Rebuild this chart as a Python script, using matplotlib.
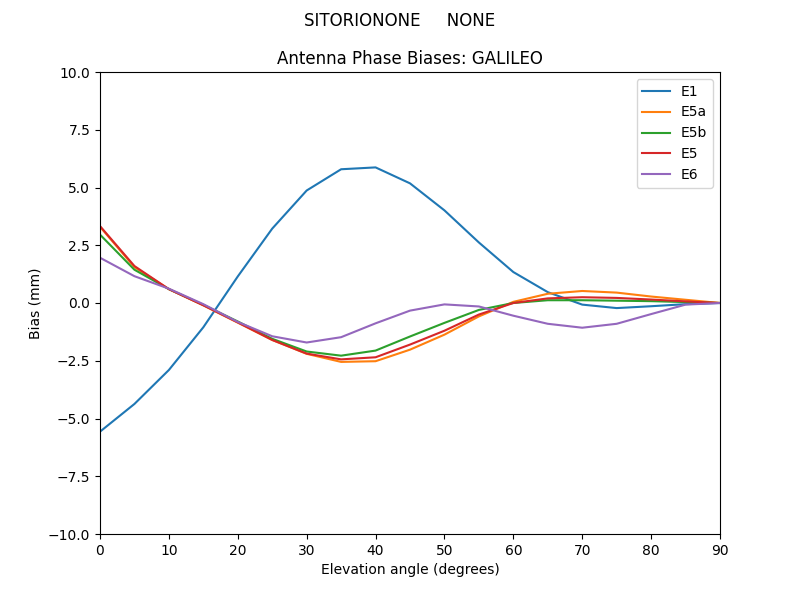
import matplotlib
matplotlib.use('Agg')
import matplotlib.pyplot as plt
import numpy as np

# elevation angles (deg)
elev = np.arange(0, 91, 5)

# bias values per frequency (mm)
e1 = [-5.57, -4.37, -2.9, -1.05, 1.15, 3.22, 4.87, 5.79, 5.87, 5.18,
      4.01, 2.62, 1.34, 0.47, -0.07, -0.22, -0.14, -0.05, 0.0]
e5a = [3.3, 1.55, 0.6, -0.1, -0.85, -1.6, -2.2, -2.55, -2.52, -2.02,
       -1.37, -0.58, 0.05, 0.4, 0.52, 0.45, 0.28, 0.14, 0.0]
e5b = [2.96, 1.44, 0.6, -0.08, -0.8, -1.55, -2.1, -2.28, -2.06, -1.45,
       -0.86, -0.3, 0.0, 0.12, 0.12, 0.1, 0.08, 0.04, 0.0]
e5 = [3.33, 1.6, 0.6, -0.1, -0.84, -1.6, -2.19, -2.44, -2.35, -1.8,
      -1.2, -0.5, 0.0, 0.2, 0.25, 0.22, 0.15, 0.07, 0.0]
e6 = [1.96, 1.16, 0.62, -0.05, -0.82, -1.44, -1.71, -1.48, -0.88, -0.33,
      -0.06, -0.15, -0.55, -0.9, -1.07, -0.9, -0.48, -0.07, 0.0]

series = {'E1': e1, 'E5a': e5a, 'E5b': e5b, 'E5': e5, 'E6': e6}

fig, ax = plt.subplots(figsize=(8, 6), dpi=100)
for name, vals in series.items():
    ax.plot(elev, vals, label=name)

fig.suptitle('SITORIONONE     NONE')
ax.set_title('Antenna Phase Biases: GALILEO')
ax.set_xlabel('Elevation angle (degrees)')
ax.set_ylabel('Bias (mm)')
ax.set_xlim(0, 90)
ax.set_ylim(-10, 10)
ax.set_yticks(np.arange(-10, 10.1, 2.5))
ax.legend(loc='upper right')

fig.savefig('out.png')
